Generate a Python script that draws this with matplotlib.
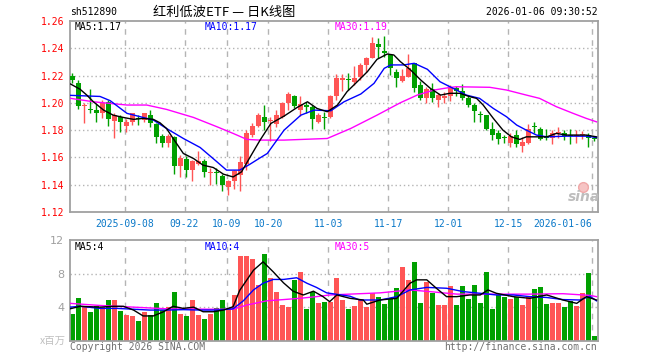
import numpy as np
import matplotlib.pyplot as plt

plt.rcParams['font.family'] = ['DejaVu Sans Mono', 'Noto Sans CJK SC']

# daily K-line, 2025-08-26 .. 2026-01-06
opens = [1.2199, 1.2148, 1.1974, 1.1954, 1.1947, 1.1928, 1.2008, 1.1869, 1.1893, 1.1832,
         1.1861, 1.1891, 1.1874, 1.1910, 1.1844, 1.1756, 1.1707, 1.1751, 1.1536, 1.1592,
         1.1511, 1.1551, 1.1575, 1.1485, 1.1489, 1.1462, 1.1384, 1.1428, 1.1470, 1.1555,
         1.1764, 1.1830, 1.1893, 1.1868, 1.1844, 1.1893, 1.2001, 1.2052, 1.1947, 1.1984,
         1.1967, 1.1861, 1.1895, 1.1898, 1.2052, 1.2167, 1.2169, 1.2155, 1.2192, 1.2278,
         1.2331, 1.2432, 1.2380, 1.2351, 1.2229, 1.2163, 1.2192, 1.2290, 1.2131, 1.2033,
         1.2099, 1.2021, 1.2033, 1.2052, 1.2106, 1.2087, 1.2033, 1.1984, 1.1912, 1.1910,
         1.1812, 1.1781, 1.1748, 1.1707, 1.1764, 1.1683, 1.1707, 1.1827, 1.1812, 1.1756,
         1.1739, 1.1779, 1.1776, 1.1758, 1.1756, 1.1762, 1.1764, 1.1741]
closes = [1.2167, 1.1976, 1.1978, 1.1950, 1.1923, 1.2001, 1.1879, 1.1910, 1.1861, 1.1861,
          1.1923, 1.1879, 1.1923, 1.1849, 1.1751, 1.1707, 1.1756, 1.1536, 1.1597, 1.1511,
          1.1575, 1.1575, 1.1494, 1.1489, 1.1485, 1.1396, 1.1426, 1.1499, 1.1568, 1.1781,
          1.1832, 1.1910, 1.1861, 1.1872, 1.1910, 1.2001, 1.2065, 1.1977, 1.1991, 1.1967,
          1.1879, 1.1910, 1.1891, 1.2052, 1.2180, 1.2180, 1.2165, 1.2180, 1.2278, 1.2331,
          1.2437, 1.2407, 1.2363, 1.2253, 1.2180, 1.2197, 1.2253, 1.2106, 1.2033, 1.2099,
          1.2033, 1.2057, 1.2052, 1.2118, 1.2087, 1.2033, 1.1984, 1.1940, 1.1908, 1.1812,
          1.1764, 1.1732, 1.1744, 1.1756, 1.1697, 1.1715, 1.1812, 1.1823, 1.1732, 1.1739,
          1.1776, 1.1783, 1.1756, 1.1754, 1.1768, 1.1766, 1.1739, 1.1737]
highs = [1.2216, 1.2167, 1.1996, 1.2099, 1.1991, 1.2021, 1.2021, 1.1923, 1.1910, 1.1879,
         1.1928, 1.1910, 1.1928, 1.1947, 1.1849, 1.1771, 1.1771, 1.1756, 1.1617, 1.1609,
         1.1580, 1.1648, 1.1585, 1.1526, 1.1519, 1.1482, 1.1433, 1.1506, 1.1609, 1.1800,
         1.1849, 1.1923, 1.1984, 1.1893, 1.1947, 1.2008, 1.2082, 1.2057, 1.2050, 1.2008,
         1.1984, 1.1923, 1.1935, 1.2057, 1.2209, 1.2209, 1.2216, 1.2270, 1.2290, 1.2339,
         1.2486, 1.2473, 1.2491, 1.2351, 1.2246, 1.2246, 1.2358, 1.2295, 1.2163, 1.2118,
         1.2143, 1.2070, 1.2082, 1.2131, 1.2123, 1.2138, 1.2057, 1.1996, 1.1940, 1.1910,
         1.1861, 1.1800, 1.1764, 1.1781, 1.1800, 1.1751, 1.1844, 1.1861, 1.1820, 1.1805,
         1.1800, 1.1825, 1.1800, 1.1810, 1.1800, 1.1793, 1.1781, 1.1751]
lows = [1.2143, 1.1952, 1.1854, 1.1923, 1.1861, 1.1886, 1.1830, 1.1746, 1.1788, 1.1788,
        1.1837, 1.1837, 1.1861, 1.1825, 1.1707, 1.1678, 1.1673, 1.1482, 1.1457, 1.1457,
        1.1428, 1.1543, 1.1457, 1.1396, 1.1404, 1.1355, 1.1328, 1.1372, 1.1355, 1.1511,
        1.1751, 1.1825, 1.1800, 1.1722, 1.1825, 1.1886, 1.1947, 1.1959, 1.1903, 1.1923,
        1.1805, 1.1854, 1.1805, 1.1886, 1.2021, 1.2089, 1.2094, 1.2131, 1.2167, 1.2229,
        1.2327, 1.2327, 1.2339, 1.2204, 1.2114, 1.2155, 1.2187, 1.2082, 1.2021, 1.1996,
        1.2008, 1.1967, 1.1996, 1.2016, 1.2052, 1.2021, 1.1967, 1.1861, 1.1861, 1.1800,
        1.1727, 1.1702, 1.1707, 1.1673, 1.1673, 1.1641, 1.1702, 1.1776, 1.1727, 1.1727,
        1.1697, 1.1746, 1.1727, 1.1702, 1.1707, 1.1732, 1.1678, 1.1722]
volumes = [3.2, 5.1, 4.1, 3.4, 4.1, 4.0, 4.85, 4.85, 3.5, 3.05,
           2.95, 2.35, 3.4, 3.05, 4.5, 3.65, 4.0, 5.8, 3.2, 2.95,
           4.85, 3.05, 2.6, 3.2, 3.9, 4.85, 3.9, 5.45, 10.1, 10.1,
           9.75, 6.65, 10.35, 7.45, 5.8, 4.25, 4.0, 7.25, 8.2, 3.8,
           5.8, 4.5, 4.6, 4.65, 7.45, 4.85, 3.8, 4.1, 4.85, 4.0,
           5.7, 5.2, 4.35, 5.1, 6.3, 8.8, 7.25, 9.4, 4.5, 7.0,
           5.7, 4.25, 4.25, 6.5, 4.25, 6.5, 4.95, 6.65, 4.5, 8.2,
           3.8, 5.45, 5.2, 4.95, 5.2, 4.25, 5.2, 6.15, 6.4, 4.35,
           4.5, 4.5, 4.0, 4.75, 4.1, 5.7, 8.05, 0.55]

# moving averages (candle index, value)
ma5_x = [-0.3, 1.3, 2.4, 3.5, 5.2, 6.8, 8.5, 10.2, 11.8, 13.5, 14.6, 15.7, 16.8, 18.5, 20.2,
         21.8, 23.5, 25.2, 26.8, 28.2, 29.6, 31.3, 33.1, 35.3, 37.5, 39.2, 40.8, 42.5, 44.2,
         45.8, 47.5, 49.2, 50.8, 52.5, 53.6, 54.7, 56.4, 58.1, 59.7, 61.4, 62.9, 64.6, 66.3,
         67.4, 68.5, 70.2, 71.8, 73.2, 74.6, 75.7, 77.4, 79.1, 80.7, 82.4, 84.1, 85.7, 87.4]
ma5 = [1.2138, 1.2099, 1.2057, 1.2008, 1.1947, 1.1910, 1.1893, 1.1879, 1.1886, 1.1879, 1.1854,
       1.1812, 1.1739, 1.1629, 1.1592, 1.1543, 1.1526, 1.1477, 1.1457, 1.1494, 1.1600, 1.1727,
       1.1849, 1.1903, 1.1967, 1.2008, 1.1959, 1.1935, 1.1984, 1.2082, 1.2155, 1.2229, 1.2319,
       1.2358, 1.2351, 1.2302, 1.2241, 1.2167, 1.2106, 1.2057, 1.2070, 1.2070, 1.2045, 1.2033,
       1.1984, 1.1886, 1.1800, 1.1751, 1.1732, 1.1751, 1.1751, 1.1751, 1.1776, 1.1764, 1.1764,
       1.1764, 1.1751]
ma10_x = [-0.3, 4.6, 6.3, 9.1, 11.8, 13.5, 15.7, 18.5, 21.3, 24.1, 25.7, 27.9, 29.6, 31.3,
          32.5, 35.3, 38.1, 40.3, 43.1, 45.3, 48.1, 50.3, 52.0, 53.1, 55.3, 57.0, 59.2, 61.3,
          63.5, 65.7, 67.9, 70.2, 72.4, 74.1, 75.7, 77.4, 79.1, 82.4, 85.7, 87.4]
ma10 = [1.2055, 1.2047, 1.2016, 1.1923, 1.1893, 1.1874, 1.1812, 1.1739, 1.1673, 1.1568, 1.1507,
        1.1507, 1.1550, 1.1597, 1.1629, 1.1800, 1.1910, 1.1947, 1.1942, 1.2008, 1.2065, 1.2143,
        1.2253, 1.2278, 1.2278, 1.2290, 1.2246, 1.2155, 1.2106, 1.2057, 1.2033, 1.1959, 1.1898,
        1.1837, 1.1800, 1.1764, 1.1751, 1.1756, 1.1756, 1.1746]
ma30_x = [-0.3, 3.5, 9.1, 12.4, 15.7, 20.2, 24.1, 26.8, 29.1, 31.3, 35.3, 42.5, 46.4, 50.8,
          54.7, 57.5, 60.3, 63.1, 64.1, 69.6, 72.4, 75.7, 77.9, 80.7, 83.5, 85.7, 87.4]
ma30 = [1.2033, 1.2008, 1.1984, 1.1984, 1.1952, 1.1893, 1.1825, 1.1776, 1.1732, 1.1727, 1.1727,
        1.1739, 1.1812, 1.1910, 1.2001, 1.2057, 1.2094, 1.2114, 1.2118, 1.2114, 1.2094, 1.2057,
        1.2033, 1.1972, 1.1923, 1.1886, 1.1861]

vma5_x = [-0.4, 1.3, 4.6, 6.8, 8.5, 10.2, 11.8, 13.5, 15.2, 16.8, 18.5, 20.2, 21.8, 23.5, 25.2,
          26.8, 27.9, 30.2, 31.8, 33.5, 35.2, 36.8, 38.5, 40.2, 41.8, 42.9, 44.1, 46.3, 48.5,
          49.1, 51.3, 54.1, 56.3, 57.4, 59.1, 60.7, 62.4, 64.1, 66.3, 68.0, 69.3, 70.7, 73.5,
          76.3, 79.1, 81.8, 84.1, 85.7, 87.4]
vma5 = [3.8, 4.1, 4.0, 4.1, 4.1, 3.65, 2.95, 2.95, 3.45, 4.1, 3.85, 4.0, 3.45, 3.45, 3.65, 4.05,
        6.0, 8.4, 9.4, 8.2, 6.9, 5.9, 5.45, 5.9, 5.25, 4.65, 5.45, 5.05, 4.85, 4.35, 4.85, 5.05,
        6.85, 7.25, 7.25, 6.25, 5.25, 5.25, 5.45, 5.45, 6.05, 5.65, 5.25, 5.05, 5.45, 4.85, 4.45,
        5.25, 4.85]
vma10_x = [-0.4, 1.3, 4.6, 7.4, 10.2, 12.9, 15.7, 18.5, 21.3, 24.1, 26.8, 28.5, 30.2, 31.8,
           33.5, 35.2, 37.4, 39.1, 40.7, 42.4, 46.3, 47.9, 51.3, 54.1, 56.3, 59.1, 62.4, 65.2,
           68.0, 70.7, 73.5, 76.3, 79.1, 81.8, 84.6, 86.3, 87.4]
vma10 = [4.0, 4.1, 3.85, 3.85, 3.75, 3.65, 3.65, 3.7, 3.65, 3.65, 3.8, 4.75, 6.05, 6.85, 7.3,
         7.3, 7.5, 6.85, 6.35, 5.7, 5.3, 4.85, 4.85, 5.25, 6.05, 6.35, 6.25, 5.85, 5.65, 5.45,
         5.45, 5.25, 5.15, 4.9, 4.85, 5.3, 4.75]
vma30_x = [-0.4, 4.6, 10.2, 15.7, 22.4, 26.8, 29.1, 32.4, 35.2, 37.9, 40.7, 42.9, 51.3, 56.3,
           59.6, 64.1, 70.7, 76.3, 81.8, 86.3, 87.4]
vma30 = [4.45, 4.2, 4.0, 3.8, 3.75, 3.75, 4.25, 4.75, 4.9, 5.05, 5.25, 5.45, 5.7, 6.05, 5.85,
         5.55, 5.55, 5.55, 5.6, 5.4, 5.25]

tick_idx = [9, 19, 26, 33, 43, 53, 63, 73, 87]
tick_labels = ['2025-09-08', '09-22', '10-09', '10-20', '11-03', '11-17', '12-01', '12-15',
               '2026-01-06']

UP = '#ff5555'
DOWN = '#00a000'
GRID = '#b4b4b4'
FRAME = '#a0a0a0'

W, H = 660, 360
fig = plt.figure(figsize=(6.6, 3.6), dpi=100)
ax1 = fig.add_axes([70 / W, 1 - 212 / H, 527.7 / W, 191 / H])
ax2 = fig.add_axes([70 / W, 1 - 340.7 / H, 527.7 / W, 100.7 / H])

idx = np.arange(len(opens))
o = np.array(opens)
c = np.array(closes)
up = c >= o
colors = np.where(up, UP, DOWN)

for ax in (ax1, ax2):
    for s in ax.spines.values():
        s.set_color(FRAME)
        s.set_linewidth(1.3)
    ax.set_xlim(-0.4, 87.6)
    for t in tick_idx:
        ax.axvline(t - 0.3, color=GRID, lw=1, ls=(0, (4, 4)), zorder=0)
    ax.tick_params(length=0)

# price panel
ax1.set_ylim(1.12, 1.26)
for lv in [1.14, 1.16, 1.18, 1.20, 1.22, 1.24]:
    ax1.axhline(lv, color=GRID, lw=1, ls=(0, (1, 2)), zorder=0)
ax1.vlines(idx, lows, highs, colors=colors, lw=1, zorder=2)
body = np.maximum(np.abs(c - o), 0.0007)
ax1.bar(idx, body, bottom=np.minimum(o, c), width=0.8, color=colors, zorder=3)
ax1.plot(ma30_x, ma30, color='#ff00ff', lw=1, zorder=4)
ax1.plot(ma10_x, ma10, color='#0000ff', lw=1, zorder=4)
ax1.plot(ma5_x, ma5, color='black', lw=1, zorder=5)

ax1.set_yticks([1.12, 1.14, 1.16, 1.18, 1.20, 1.22, 1.24, 1.26])
ax1.set_yticklabels(['%.2f' % v for v in ax1.get_yticks()], color='red', fontsize=7)
ax1.tick_params(axis='y', pad=4)
ax1.set_xticks([t - 0.3 for t in tick_idx])
ax1.set_xticklabels(tick_labels, color='#0a78c8', fontsize=7)
ax1.tick_params(axis='x', pad=5)
ax1.get_xticklabels()[-1].set_ha('right')
ax1.get_xticklabels()[-1].set_x(tick_idx[-1] + 0.2)

# volume panel
ax2.set_ylim(0, 12)
for lv in [4, 8]:
    ax2.axhline(lv, color=GRID, lw=1, ls=(0, (1, 2)), zorder=0)
ax2.bar(idx, volumes, width=0.8, color=colors, zorder=2)
ax2.plot(vma30_x, vma30, color='#ff00ff', lw=1, zorder=3)
ax2.plot(vma10_x, vma10, color='#0000ff', lw=1, zorder=3)
ax2.plot(vma5_x, vma5, color='black', lw=1, zorder=4)
ax2.set_yticks([4, 8, 12])
ax2.set_yticklabels(['4', '8', '12'], color='#a0a0a0', fontsize=8, family='DejaVu Sans')
ax2.tick_params(axis='y', pad=4)
ax2.set_xticks([])


def ftext(x, y, s, **kw):
    fig.text(x / W, 1 - y / H, s, va='center', **kw)


ftext(70, 12, 'sh512890', fontsize=7)
ftext(224, 12, '红利低波ETF — 日K线图', fontsize=9.5, ha='center',
      family=['Noto Sans CJK SC', 'DejaVu Sans'])
ftext(598, 12, '2026-01-06 09:30:52', fontsize=7, ha='right')

ftext(75, 27, 'MA5:1.17', fontsize=7, color='black')
ftext(205, 27, 'MA10:1.17', fontsize=7, color='#0000ff')
ftext(335, 27, 'MA30:1.19', fontsize=7, color='#ff00ff')
ftext(75, 247, 'MA5:4', fontsize=7, color='black')
ftext(205, 247, 'MA10:4', fontsize=7, color='#0000ff')
ftext(335, 247, 'MA30:5', fontsize=7, color='#ff00ff')

ftext(66, 341, 'x百万', fontsize=7.5, ha='right', color='#c0c0c0',
      family=['Noto Sans CJK SC', 'DejaVu Sans'])
ftext(70, 347, 'Copyright 2026 SINA.COM', fontsize=7, color='#707070')
ftext(597, 347, 'http://finance.sina.com.cn', fontsize=7, ha='right', color='#707070')

# faint sina watermark
fig.add_artist(plt.Line2D([583 / W], [1 - 187 / H], marker='o', ms=7, mfc='#f6c4c4',
                          mec='#f0a8a8', mew=1, ls='none'))
ftext(584, 197, 'sina', fontsize=10, ha='center', color='#bdbdbd', style='italic',
      weight='bold', family='DejaVu Sans')

fig.savefig('out.png', dpi=100)
